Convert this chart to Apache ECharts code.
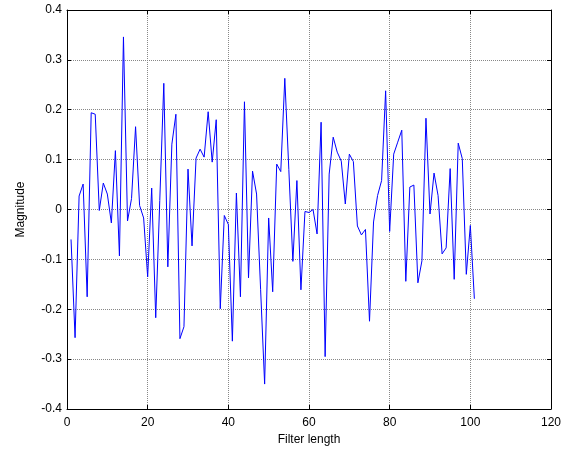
<!DOCTYPE html>
<html>
<head>
<meta charset="utf-8">
<script src="https://cdn.jsdelivr.net/npm/echarts@6/dist/echarts.min.js"></script>
<style>
html,body{margin:0;padding:0;background:#fff;}
#chart{width:572px;height:453px;}
</style>
</head>
<body>
<div id="chart"></div>
<script>
var xLabels = [0, 20, 40, 60, 80, 100, 120];
var yTicks = [-0.4, -0.3, -0.2, -0.1, 0, 0.1, 0.2, 0.3, 0.4];
var filterIndex = [];
for (var k = 1; k <= 101; k++) filterIndex.push(k);
var magnitude = [
  -0.06, -0.257, 0.027, 0.051, -0.175, 0.194, 0.191, -0.002, 0.053, 0.031,
  -0.027, 0.118, -0.093, 0.346, -0.023, 0.022, 0.166, 0.008, -0.017, -0.135,
  0.043, -0.217, 0.018, 0.253, -0.115, 0.131, 0.191, -0.259, -0.235, 0.081,
  -0.073, 0.103, 0.121, 0.105, 0.196, 0.095, 0.18, -0.199, -0.012, -0.03,
  -0.264, 0.033, -0.175, 0.216, -0.137, 0.077, 0.031, -0.16, -0.35, -0.017,
  -0.165, 0.091, 0.076, 0.263, 0.08, -0.104, 0.058, -0.161, -0.004, -0.006,
  0.0, -0.049, 0.175, -0.295, 0.071, 0.145, 0.115, 0.097, 0.011, 0.111,
  0.096, -0.033, -0.051, -0.04, -0.224, -0.025, 0.028, 0.058, 0.238, -0.044,
  0.111, 0.135, 0.159, -0.144, 0.045, 0.049, -0.147, -0.103, 0.183, -0.009,
  0.073, 0.028, -0.089, -0.077, 0.082, -0.14, 0.133, 0.102, -0.13, -0.032,
  -0.179
];
var seriesData = filterIndex.map(function (x, i) { return [x, magnitude[i]]; });

var font = 'Liberation Sans, Arial, sans-serif';
var lineStyle = { color: '#000', width: 1 };
var chart = echarts.init(document.getElementById('chart'), null, { renderer: 'canvas' });
chart.setOption({
  animation: false,
  backgroundColor: '#fff',
  grid: { left: 67, right: 21, top: 10, bottom: 44, show: false },
  xAxis: [{
    type: 'value', min: 0, max: 120, interval: 20, position: 'bottom',
    name: 'Filter length', nameLocation: 'middle', nameGap: 24,
    nameTextStyle: { fontFamily: font, fontSize: 12, color: '#000' },
    axisLine: { show: true, onZero: false, lineStyle: lineStyle },
    axisTick: { show: true, inside: true, length: 4, lineStyle: lineStyle },
    axisLabel: { fontFamily: font, fontSize: 12, color: '#000', margin: 8 },
    splitLine: { show: true, lineStyle: { color: '#888', type: [1, 1], width: 1 } }
  }, {
    type: 'value', min: 0, max: 120, interval: 20, position: 'top',
    axisLine: { show: true, onZero: false, lineStyle: lineStyle },
    axisTick: { show: true, inside: true, length: 4, lineStyle: lineStyle },
    axisLabel: { show: false }, splitLine: { show: false }
  }],
  yAxis: [{
    type: 'value', min: -0.4, max: 0.4, interval: 0.1, position: 'left',
    name: 'Magnitude', nameLocation: 'middle', nameGap: 40,
    nameTextStyle: { fontFamily: font, fontSize: 12, color: '#000' },
    axisLine: { show: true, onZero: false, lineStyle: lineStyle },
    axisTick: { show: true, inside: true, length: 4, lineStyle: lineStyle },
    axisLabel: { fontFamily: font, fontSize: 12, color: '#000', margin: 5,
      formatter: function (v) { var r = Math.round(v * 10) / 10; return r === 0 ? '0' : r.toFixed(1); } },
    splitLine: { show: true, lineStyle: { color: '#888', type: [1, 1], width: 1 } }
  }, {
    type: 'value', min: -0.4, max: 0.4, interval: 0.1, position: 'right',
    axisLine: { show: true, onZero: false, lineStyle: lineStyle },
    axisTick: { show: true, inside: true, length: 4, lineStyle: lineStyle },
    axisLabel: { show: false }, splitLine: { show: false }
  }],
  series: [{
    type: 'line', xAxisIndex: 0, yAxisIndex: 0,
    data: seriesData, showSymbol: false, symbol: 'none',
    lineStyle: { color: '#0000ff', width: 1 }
  }]
});
</script>
</body>
</html>
